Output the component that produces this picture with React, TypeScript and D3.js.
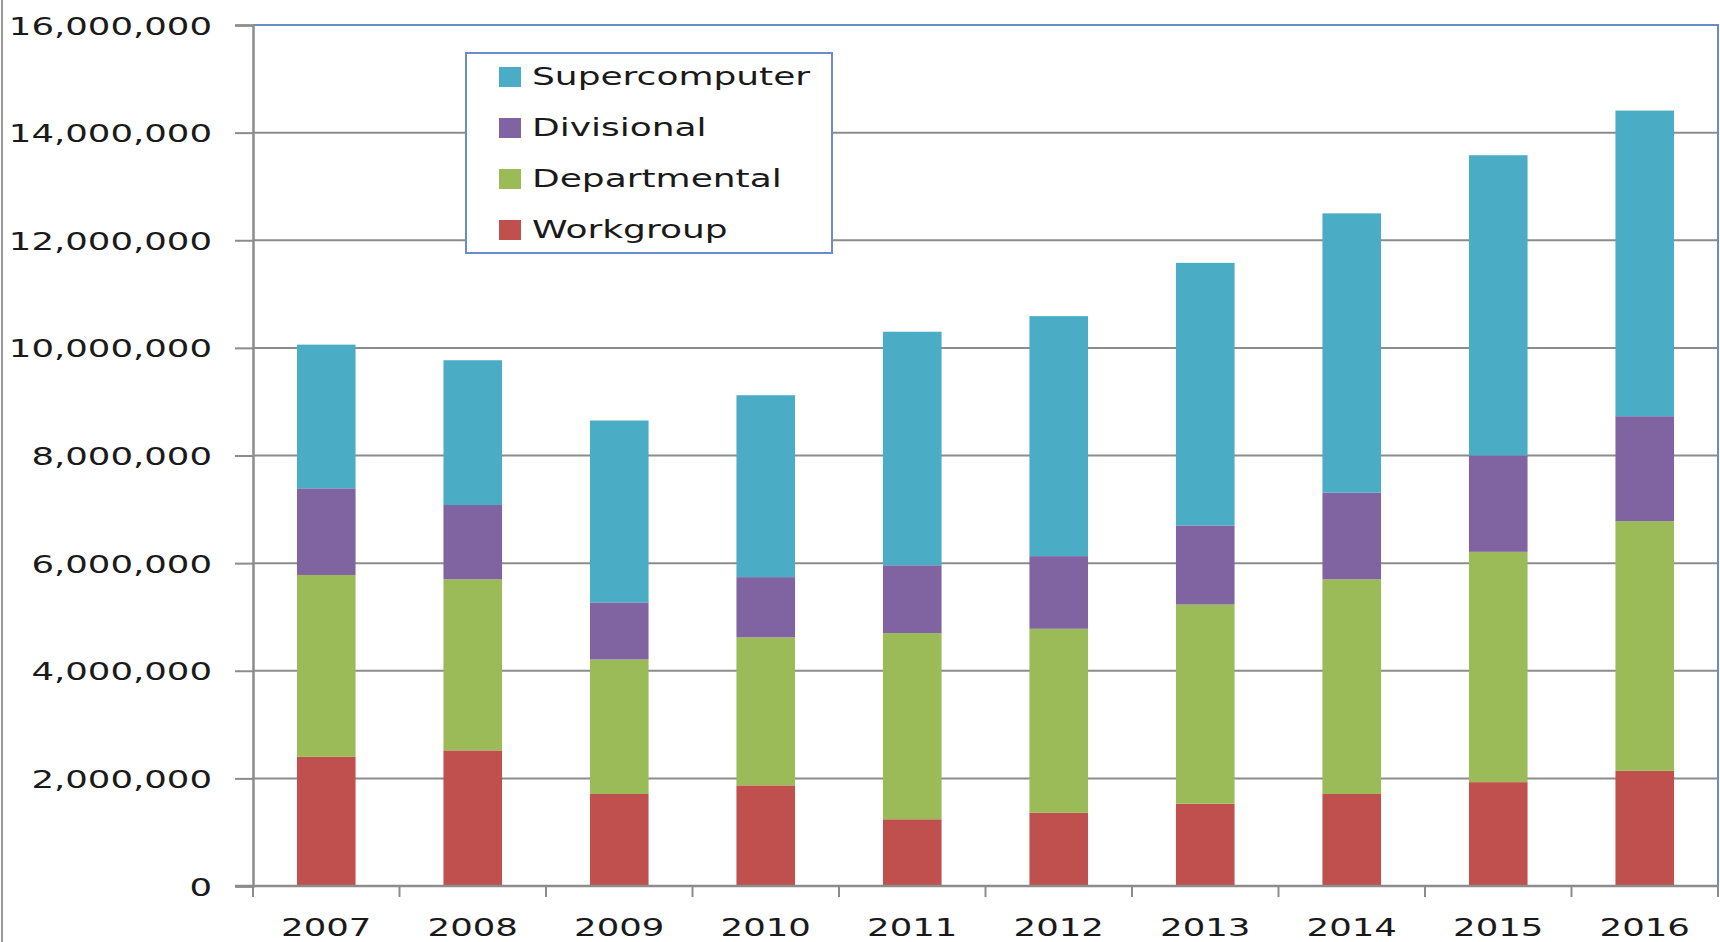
import { useEffect, useRef } from 'react';
import * as d3 from 'd3';

// values
const years = ['2007', '2008', '2009', '2010', '2011', '2012', '2013', '2014', '2015', '2016'];
const workgroup = [2400000, 2520000, 1710000, 1870000, 1240000, 1360000, 1530000, 1710000, 1930000, 2140000];
const departmental = [3380000, 3180000, 2500000, 2750000, 3460000, 3420000, 3700000, 3990000, 4280000, 4640000];
const divisional = [1610000, 1380000, 1060000, 1120000, 1260000, 1350000, 1470000, 1610000, 1790000, 1950000];
const supercomputer = [2670000, 2690000, 3380000, 3380000, 4340000, 4460000, 4880000, 5190000, 5580000, 5680000];
const seriesNames = ['Workgroup', 'Departmental', 'Divisional', 'Supercomputer'];
const seriesColors = ['#C0504D', '#9BBB59', '#8064A2', '#4BACC6'];
const yTicks = [0, 2000000, 4000000, 6000000, 8000000, 10000000, 12000000, 14000000, 16000000];

const W = 1720;
const H = 942;
const FONT = 'DejaVu Sans';
const SX = 1.42; // text in the picture is stretched sideways

const App = () => {
  const ref = useRef<SVGSVGElement>(null);

  useEffect(() => {
    const svg = d3.select(ref.current);
    svg.selectAll('*').remove();

    const margin = { top: 25, right: 2, bottom: 56, left: 253 };
    const width = W - margin.left - margin.right;
    const height = H - margin.top - margin.bottom;

    const rows = years.map((y, i) => ({
      year: y,
      Workgroup: workgroup[i],
      Departmental: departmental[i],
      Divisional: divisional[i],
      Supercomputer: supercomputer[i],
    }));
    const stacked = d3.stack<any>().keys(seriesNames)(rows);

    // outer chart border on the left
    svg.append('line')
      .attr('x1', 2).attr('x2', 2).attr('y1', 0).attr('y2', H)
      .attr('stroke', '#9a9a9a').attr('stroke-width', 2);

    const g = svg.append('g').attr('transform', `translate(${margin.left},${margin.top})`);

    const x = d3.scaleBand().domain(years).range([0, width]).paddingInner(0.6).paddingOuter(0.3);
    const y = d3.scaleLinear().domain([0, 16000000]).range([height, 0]);

    // gridlines
    g.append('g')
      .selectAll('line')
      .data(yTicks.slice(1, -1))
      .join('line')
      .attr('x1', 0).attr('x2', width)
      .attr('y1', (d) => y(d)).attr('y2', (d) => y(d))
      .attr('stroke', '#8c8c8c').attr('stroke-width', 2);

    // plot border (top / right)
    g.append('path')
      .attr('d', `M0,${y(16000000)}H${width}V${height}`)
      .attr('fill', 'none').attr('stroke', '#6a8cc8').attr('stroke-width', 2);

    // bars
    g.append('g')
      .selectAll('g')
      .data(stacked)
      .join('g')
      .attr('fill', (_, i) => seriesColors[i])
      .selectAll('rect')
      .data((d) => d)
      .join('rect')
      .attr('x', (d) => x(d.data.year)!)
      .attr('width', x.bandwidth())
      .attr('y', (d) => y(d[1]))
      .attr('height', (d) => y(d[0]) - y(d[1]));

    // y axis
    const yAxis = g.append('g')
      .call(d3.axisLeft(y).tickValues(yTicks).tickSize(18).tickPadding(0).tickFormat(d3.format(',')));
    yAxis.select('.domain').attr('stroke', '#8c8c8c').attr('stroke-width', 2.5);
    yAxis.selectAll('.tick line').attr('stroke', '#8c8c8c').attr('stroke-width', 2);
    yAxis.selectAll('.tick text')
      .attr('x', -41 / SX)
      .attr('dy', '0.36em')
      .attr('transform', `scale(${SX},1)`)
      .style('font-family', FONT)
      .style('font-size', '25px')
      .style('fill', '#1a1a1a');

    // x axis: labels at band centres, tick marks at band edges
    const xAxis = g.append('g')
      .attr('transform', `translate(0,${height})`)
      .call(d3.axisBottom(x).tickSize(0).tickPadding(0));
    xAxis.select('.domain').remove();
    xAxis.selectAll('.tick text')
      .attr('y', 50)
      .attr('dy', 0)
      .attr('transform', `scale(${SX},1)`)
      .style('font-family', FONT)
      .style('font-size', '25px')
      .style('fill', '#1a1a1a');

    const step = x.step();
    const edges = d3.range(years.length + 1).map((i) => i * step);
    g.append('line')
      .attr('x1', -18).attr('x2', width).attr('y1', height).attr('y2', height)
      .attr('stroke', '#8c8c8c').attr('stroke-width', 2.5);
    g.append('g')
      .selectAll('line')
      .data(edges)
      .join('line')
      .attr('x1', (d) => d).attr('x2', (d) => d)
      .attr('y1', height).attr('y2', height + 11)
      .attr('stroke', '#8c8c8c').attr('stroke-width', 2);

    // legend
    const legend = svg.append('g').attr('transform', 'translate(466,53)');
    legend.append('rect')
      .attr('width', 366).attr('height', 200)
      .attr('fill', '#fff').attr('stroke', '#6a8cc8').attr('stroke-width', 2);
    const order = [3, 2, 1, 0];
    const LX = 1.5;
    order.forEach((si, k) => {
      const cy = 24 + k * 51;
      legend.append('rect')
        .attr('x', 33).attr('y', cy - 10).attr('width', 22).attr('height', 20)
        .attr('fill', seriesColors[si]);
      legend.append('text')
        .attr('x', 66 / LX).attr('y', cy)
        .attr('dy', '0.35em')
        .attr('transform', `scale(${LX},1)`)
        .style('font-family', FONT)
        .style('font-size', '24px')
        .style('fill', '#1a1a1a')
        .text(seriesNames[si]);
    });
  }, []);

  return (
    <div style={{ position: 'absolute', left: 0, top: 0 }}>
      <svg ref={ref} width={W} height={H} style={{ display: 'block', background: '#fff' }} />
    </div>
  );
};

export default App;
